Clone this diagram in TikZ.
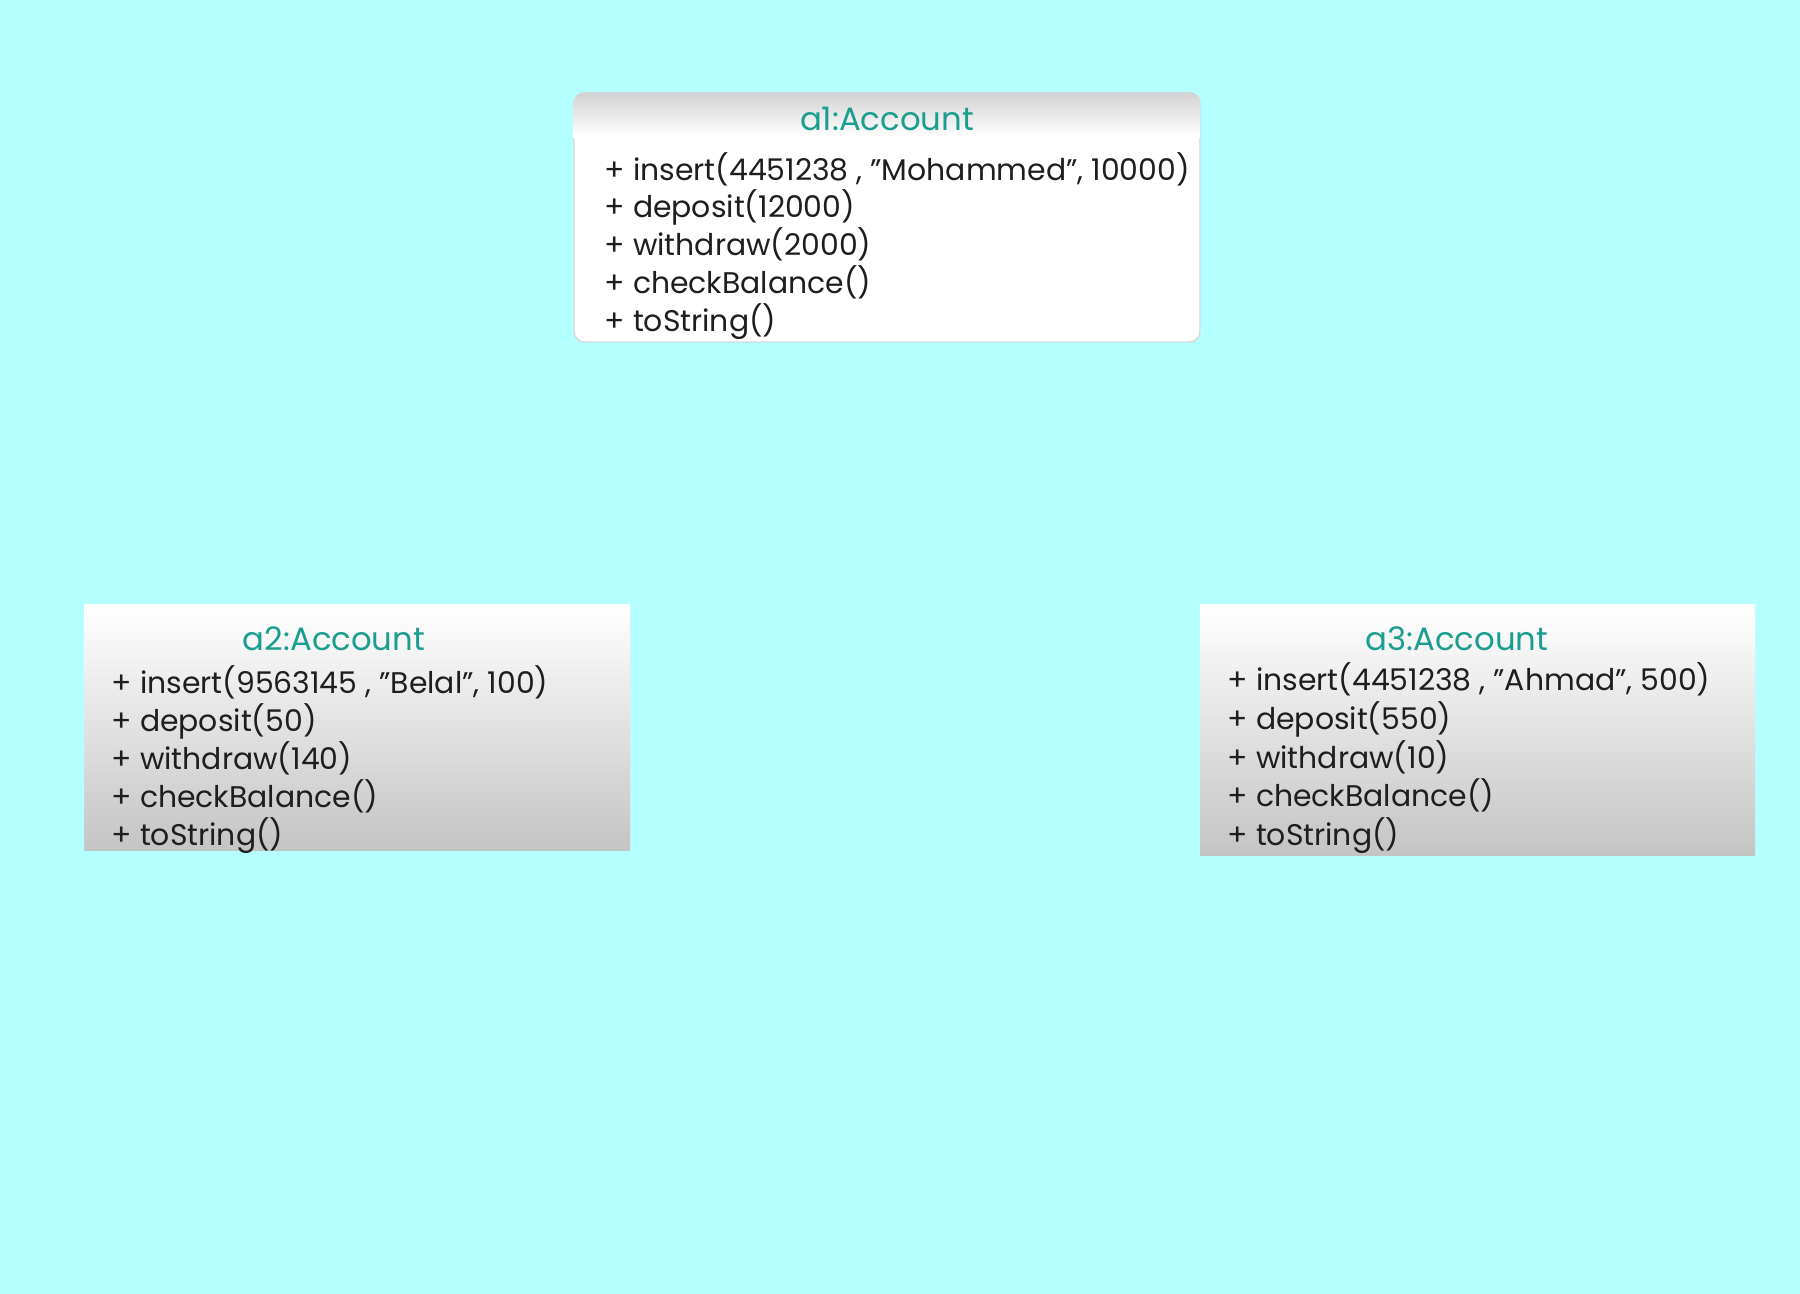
\documentclass[tikz,border=0pt]{standalone}
\usepackage{fontspec}
\setmainfont{Poppins}
\usepackage{tikz}
\definecolor{bgcyan}{RGB}{180,255,255}
\definecolor{titleteal}{RGB}{26,158,143}
\definecolor{boxgray}{RGB}{196,196,196}
\definecolor{linetext}{RGB}{30,30,30}
\tikzset{
  objtitle/.style={text=titleteal, font=\fontsize{9.2}{11}\selectfont},
  objline/.style={anchor=west, inner sep=0pt, text=linetext,
    text height=0.7em, text depth=0.2em, font=\fontsize{8.5}{10}\selectfont},
  topbox/.style={fill=white, draw=gray!30, rounded corners=3pt},
  lowbox/.style={top color=white, bottom color=boxgray}
}
\begin{document}
\begin{tikzpicture}
	% Background
	\fill[bgcyan] (0,0) rectangle (18,12.94);
	\useasboundingbox (0,0) rectangle (18,12.94);

	% Object a1
	\node[topbox, minimum width=6.26cm, minimum height=2.49cm] (a1) at (8.87,10.765) {};
	\begin{scope}
		\clip[rounded corners=3pt] (a1.south west) rectangle (a1.north east);
		\shade[top color=gray!35, bottom color=white] (a1.north west) rectangle ([yshift=-0.45cm]a1.north east);
	\end{scope}
	\node[objtitle] (a1t) at (8.87,11.75) {a1:Account};
	\foreach \t [count=\i] in {{+ insert(4451238 , "Mohammed", 10000)}, {+ deposit(12000)}, {+ withdraw(2000)}, {+ checkBalance()}, {+ toString()}}
		\node[objline] (a1l\i) at (6.04,{11.225-0.377*(\i-1)}) {\t};

	% Object a2
	\node[lowbox, minimum width=5.46cm, minimum height=2.46cm] (a2) at (3.57,5.66) {};
	\node[objtitle] (a2t) at (3.34,6.55) {a2:Account};
	\foreach \t [count=\i] in {{+ insert(9563145 , "Belal", 100)}, {+ deposit(50)}, {+ withdraw(140)}, {+ checkBalance()}, {+ toString()}}
		\node[objline] (a2l\i) at (1.11,{6.095-0.38*(\i-1)}) {\t};

	% Object a3
	\node[lowbox, minimum width=5.55cm, minimum height=2.51cm] (a3) at (14.775,5.635) {};
	\node[objtitle] (a3t) at (14.57,6.55) {a3:Account};
	\foreach \t [count=\i] in {{+ insert(4451238 , "Ahmad", 500)}, {+ deposit(550)}, {+ withdraw(10)}, {+ checkBalance()}, {+ toString()}}
		\node[objline] (a3l\i) at (12.27,{6.12-0.387*(\i-1)}) {\t};

\end{tikzpicture}
\end{document}
